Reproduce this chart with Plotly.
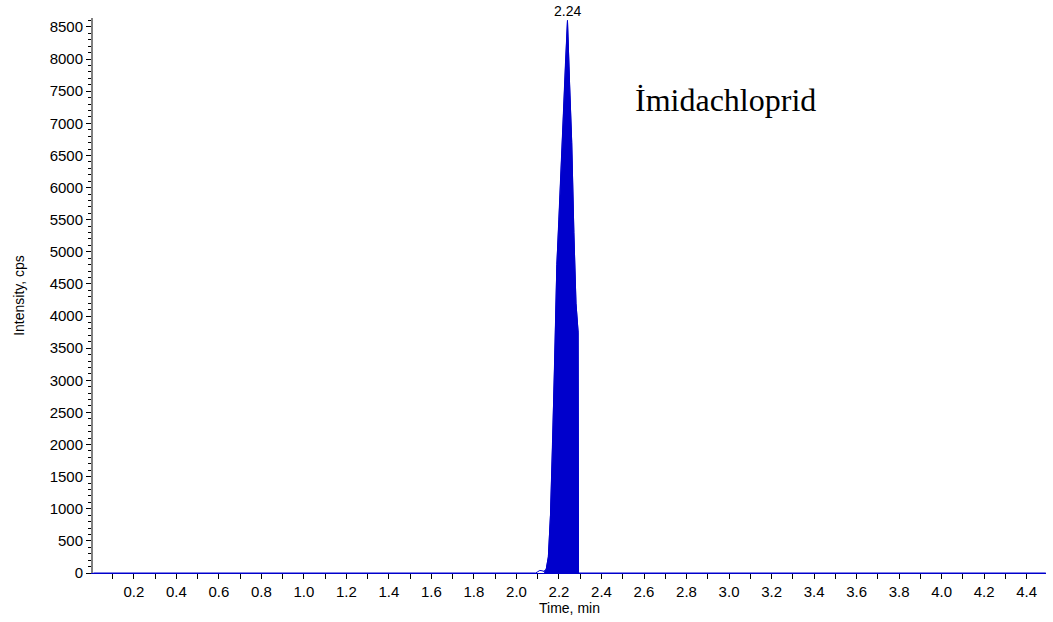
import plotly.graph_objects as go

# Extracted ion chromatogram: retention time (min) vs intensity (cps)
time_min = [0.01, 2.09, 2.10, 2.11, 2.12, 2.13, 2.14, 2.15, 2.16, 2.17, 2.18,
            2.19, 2.20, 2.21, 2.22, 2.23, 2.24, 2.25, 2.26, 2.27, 2.28, 2.29,
            2.292, 4.49]
intensity = [0, 0, 20, 40, 35, 25, 60, 250, 900, 2000, 3300,
             4800, 5500, 6300, 7100, 7900, 8600, 7600, 6700, 5300, 4200, 3750,
             0, 0]

# Integrated peak window
peak_start, peak_end = 2.13, 2.292
compound = "İmidachloprid"

peak_t = [t for t in time_min if peak_start <= t <= peak_end]
peak_i = [i for t, i in zip(time_min, intensity) if peak_start <= t <= peak_end]
apex_idx = max(range(len(intensity)), key=lambda k: intensity[k])
apex_t, apex_i = time_min[apex_idx], intensity[apex_idx]

BLUE = "#0000CC"
FONT = "Liberation Sans"

fig = go.Figure()
fig.add_trace(go.Scatter(x=time_min, y=intensity, mode="lines",
                         line=dict(color=BLUE, width=1), hoverinfo="skip",
                         cliponaxis=False))
fig.add_trace(go.Scatter(x=peak_t, y=peak_i, mode="lines", fill="tozeroy",
                         fillcolor=BLUE, line=dict(color=BLUE, width=1)))

fig.add_annotation(x=apex_t, y=apex_i, text=f"{apex_t:.2f}", showarrow=False,
                   yanchor="bottom", yshift=0,
                   font=dict(family=FONT, size=14, color="black"))
fig.add_annotation(x=0.664, y=0.852, xref="paper", yref="paper", text=compound,
                   showarrow=False, xanchor="center", yanchor="middle",
                   font=dict(family="Liberation Serif", size=32, color="black"))

fig.update_layout(
    width=1053, height=622,
    margin=dict(l=93, r=7, t=18, b=49),
    paper_bgcolor="white", plot_bgcolor="white",
    showlegend=False,
    font=dict(family=FONT, size=14, color="black"),
)
fig.update_xaxes(
    range=[0.008, 4.491], tick0=0, dtick=0.2, tickformat=".1f",
    ticks="outside", ticklen=5, tickcolor="black",
    tickfont=dict(size=15),
    minor=dict(dtick=0.1, ticks="outside", ticklen=5, tickcolor="black"),
    showline=True, linecolor=BLUE, linewidth=1,
    showgrid=False, zeroline=False,
    title=dict(text="Time, min", font=dict(size=14), standoff=0),
)
fig.update_yaxes(
    range=[0, 8640], tick0=0, dtick=500,
    ticks="outside", ticklen=5, tickcolor="black",
    tickfont=dict(size=15),
    minor=dict(dtick=100, ticks="outside", ticklen=3, tickcolor="black"),
    showline=True, linecolor="#808080", linewidth=2,
    showgrid=False, zeroline=False,
    title=dict(text="Intensity, cps", font=dict(size=14), standoff=22),
)

fig.write_html("out.html")
